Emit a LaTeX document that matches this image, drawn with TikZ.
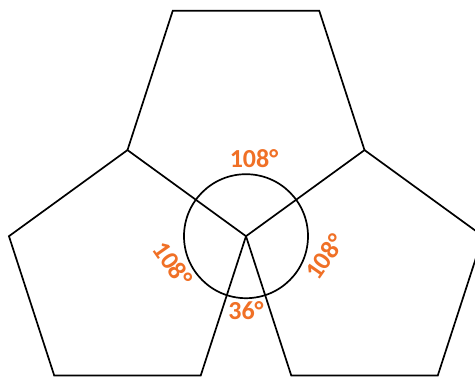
\documentclass[tikz,border=0pt]{standalone}
\usepackage{fontspec}
\setmainfont{Carlito}
\usetikzlibrary{calc}
\definecolor{angleorange}{RGB}{240,112,38}
\tikzset{
  edge/.style={line width=1.7pt, black, line join=miter},
  anglelabel/.style={text=angleorange, font=\bfseries\fontsize{26}{30}\selectfont, inner sep=0pt}
}
\begin{document}
\begin{tikzpicture}[x=1pt,y=1pt]
\useasboundingbox (0,0) rectangle (475,377);
\def\s{146.5}
\coordinate (C) at (246,140.8);
% top pentagon
\coordinate (T1) at ($(C)+(144:\s)$);
\coordinate (T2) at ($(T1)+(72:\s)$);
\coordinate (T3) at ($(T2)+(0:\s)$);
\coordinate (P1) at ($(C)+(36:\s)$);
% left pentagon
\coordinate (L2) at ($(T1)+(216:\s)$);
\coordinate (L3) at ($(L2)+(288:\s)$);
\coordinate (L4) at ($(C)+(252:\s)$);
% right pentagon
\coordinate (R2) at ($(P1)+(-36:\s)$);
\coordinate (R3) at ($(R2)+(-108:\s)$);
\coordinate (R4) at ($(C)+(-72:\s)$);
\draw[edge] (C) -- (T1) -- (T2) -- (T3) -- (P1) -- cycle;
\draw[edge] (T1) -- (L2) -- (L3) -- (L4) -- (C);
\draw[edge] (P1) -- (R2) -- (R3) -- (R4) -- (C);
\draw[edge] (C) circle[radius=62];
\node[anglelabel] (a1) at (254,218) {108°};
\node[anglelabel, rotate=-55] (a2) at (173,113) {108°};
\node[anglelabel, rotate=55] (a3) at (325,120) {108°};
\node[anglelabel] (a4) at (246,66) {36°};
\end{tikzpicture}
\end{document}
